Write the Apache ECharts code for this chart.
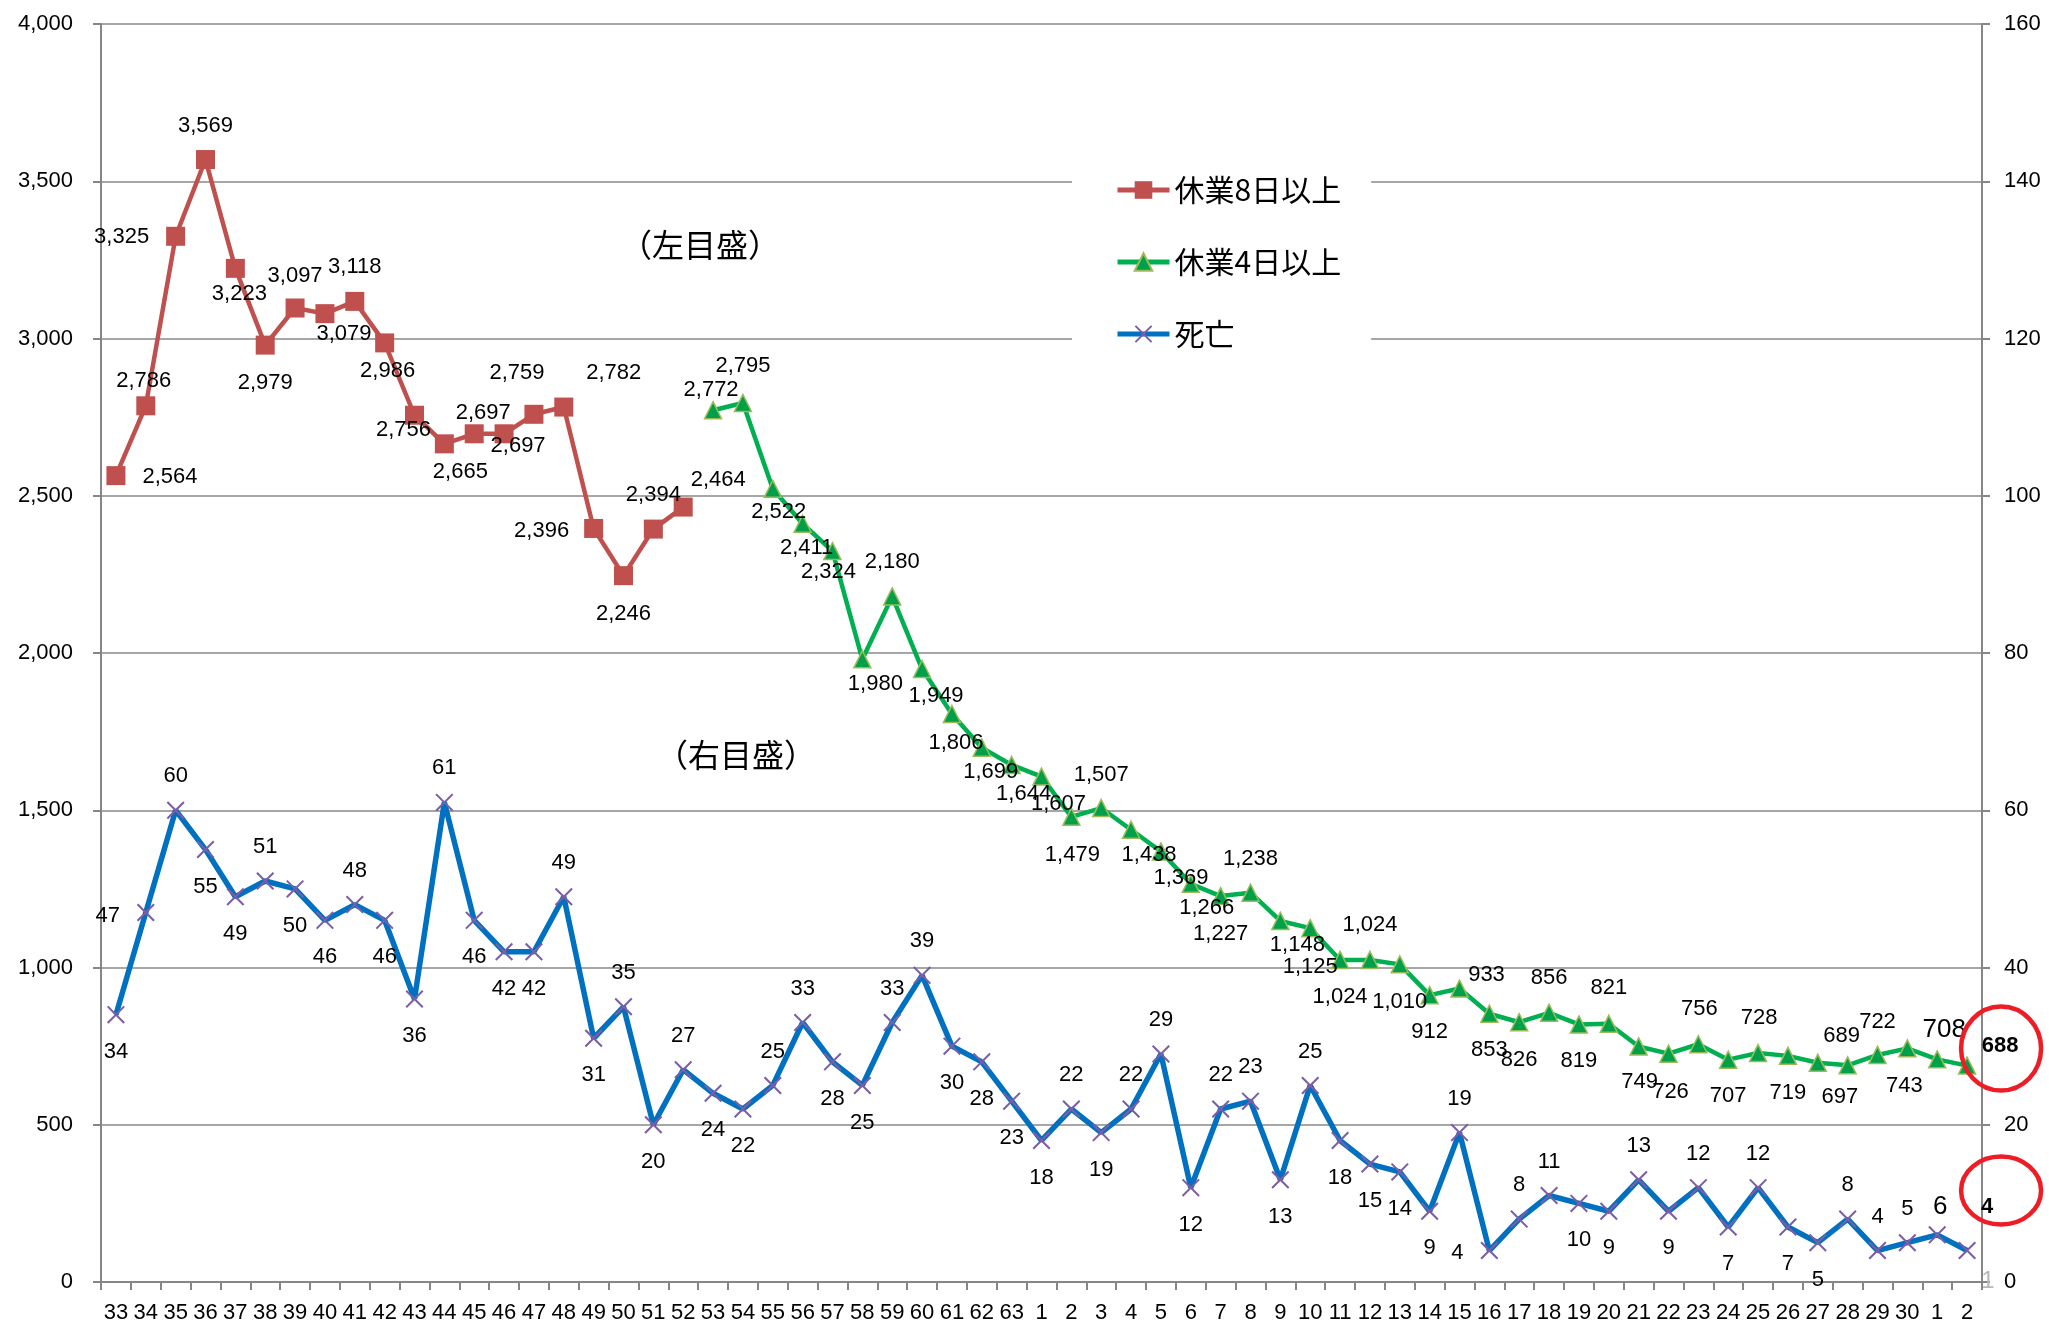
<!DOCTYPE html>
<html><head><meta charset="utf-8">
<script src="https://cdn.jsdelivr.net/npm/echarts@6/dist/echarts.min.js"></script>
<style>html,body{margin:0;padding:0;background:#fff}#c{width:2049px;height:1326px}</style>
</head><body><div id="c"></div>
<script>
// ---- categories (昭和33〜63, 平成1〜30, 令和1〜2) ----
const categories = ['33','34','35','36','37','38','39','40','41','42','43','44','45','46','47','48','49','50','51','52','53','54','55','56','57','58','59','60','61','62','63',
  '1','2','3','4','5','6','7','8','9','10','11','12','13','14','15','16','17','18','19','20','21','22','23','24','25','26','27','28','29','30',
  '1','2'];

// 休業8日以上 (33〜52)
const leave8Values = [2564,2786,3325,3569,3223,2979,3097,3079,3118,2986,2756,2665,2697,2697,2759,2782,2396,2246,2394,2464];
// 休業4日以上 (53〜令和2)
const leave4Values = [2772,2795,2522,2411,2324,1980,2180,1949,1806,1699,1644,
  1607,1479,1507,1438,1369,1266,1227,1238,1148,1125,1024,1024,1010,912,933,853,826,856,819,821,749,726,756,707,728,719,697,689,722,743,
  708,688];
// 死亡 (33〜令和2, 右目盛)
const deathValues = [34,47,60,55,49,51,50,46,48,46,36,61,46,42,42,49,31,35,20,27,24,22,25,33,28,25,33,39,30,28,23,
  18,22,19,22,29,12,22,23,13,25,18,15,14,9,19,4,8,11,10,9,13,9,12,7,12,7,5,8,4,5,
  6,4];

const leftTicks = {min:0, max:4000, interval:500};
const rightTicks = {min:0, max:160, interval:20};

// label placement (pixel offsets from the point)
const leave8LabelOffsets = [[54,1],[-2,-25],[-54,1],[0,-34],[4,26],[0,38],[0,-32],[19,20],[0,-34],[3,28],[-11,15],[16,28],[9,-21],[14,12],[-17,-41],[50,-34],[-52,2],[0,38],[0,-34],[35,-27]];
const leave4LabelOffsets = [[-2,-20],[0,-37],[6,23],[4,24],[-4,21],[13,25],[0,-34],[14,27],[4,29],[9,24],[12,29],
  [17,27],[1,38],[0,-33],[18,25],[20,26],[16,24],[0,38],[0,-34],[17,24],[0,39],
  [0,37],[0,-35],[0,38],[0,37],[27,-14],[0,36],[0,38],[0,-35],[0,37],[0,-36],
  [1,35],[2,38],[1,-35],[0,36],[1,-35],[0,37],[22,34],[-6,-29],[0,-33],[-3,38],
  [7,-30],[33,-20]];
const deathLabelOffsets = ['b',[-38,3],'a','b','b','a','b','b','a','b','b','a','b','b','b','a','b','a','b','a',
  'b','b','a','a','b','b','a','a','b','b','b',
  'b','a','b','a','a','b','a','a','b','a','b','b','b','b','a',[-32,2],'a','a','b','b','a','b','a','b','a','b','b','a','a','a',
  [3,-28],[20,-44]];

const FONT = '"Liberation Sans", Arial, sans-serif';
const CJK = '"Noto Sans CJK JP", "Noto Sans CJK SC", sans-serif';
const fmt = v => Number(v).toLocaleString('en-US');
function off(c){ if(c==='a') return [0,-34]; if(c==='b') return [0,37]; return c; }
function buildData(vals, offsets, lead, trail, special){
  const out = [];
  for(let i=0;i<lead;i++) out.push(null);
  vals.forEach((v,i)=>{
    const lab = {show:true, position:'inside', offset: off(offsets[i])};
    if (special && special[i]) Object.assign(lab, special[i]);
    out.push({value:v, label:lab});
  });
  for(let i=0;i<trail;i++) out.push(null);
  return out;
}
const N = categories.length;
const lastG = leave4Values.length-1, lastD = deathValues.length-1;
const gSpecial = {}; gSpecial[lastG-1] = {fontSize:26}; gSpecial[lastG] = {fontWeight:'bold'};
const dSpecial = {}; dSpecial[lastD-1] = {fontSize:26}; dSpecial[lastD] = {fontWeight:'bold'};

const XPATH = 'path://M0,0.8 L0.8,0 L10,9.2 L9.2,10 Z M9.2,0 L10,0.8 L0.8,10 L0,9.2 Z';
const axisGray = '#868686';
const labelBase = {color:'#000', fontSize:22, fontFamily:FONT, formatter: p => fmt(p.value)};

const chart = echarts.init(document.getElementById('c'), null, {renderer:'canvas', width:2049, height:1326});
chart.setOption({
  animation:false,
  backgroundColor:'#fff',
  grid:{left:101, right:67, top:24, bottom:44, containLabel:false, outerBoundsMode:'none'},
  legend:{
    orient:'vertical', left:1072, top:161, padding:[14,30,14,43], backgroundColor:'#fff',
    itemWidth:52, itemHeight:22, itemGap:42,
    lineStyle:{width:5},
    textStyle:{fontFamily:CJK, fontSize:30, lineHeight:30, color:'#000'},
    data:['休業8日以上','休業4日以上','死亡']
  },
  xAxis:{
    type:'category', data:categories, boundaryGap:true,
    axisLine:{lineStyle:{color:axisGray, width:2}},
    axisTick:{show:true, length:8, lineStyle:{color:axisGray, width:2}},
    axisLabel:{interval:0, color:'#000', fontSize:22, fontFamily:FONT, margin:20},
    splitLine:{show:false}
  },
  yAxis:[
    {type:'value', position:'left', min:leftTicks.min, max:leftTicks.max, interval:leftTicks.interval,
     axisLine:{show:true, lineStyle:{color:axisGray, width:2}},
     axisTick:{show:true, length:8, lineStyle:{color:axisGray, width:2}},
     axisLabel:{formatter:v=>fmt(v), color:'#000', fontSize:22, fontFamily:FONT, margin:28},
     splitLine:{show:true, lineStyle:{color:'#a6a6a6', width:2}}},
    {type:'value', position:'right', min:rightTicks.min, max:rightTicks.max, interval:rightTicks.interval,
     axisLine:{show:true, lineStyle:{color:axisGray, width:2}},
     axisTick:{show:true, length:8, lineStyle:{color:axisGray, width:2}},
     axisLabel:{color:'#000', fontSize:22, fontFamily:FONT, margin:22},
     splitLine:{show:false}}
  ],
  series:[
    {name:'休業8日以上', type:'line', yAxisIndex:0,
     data: buildData(leave8Values, leave8LabelOffsets, 0, N-leave8Values.length),
     symbol:'rect', symbolSize:19,
     lineStyle:{color:'#c0504d', width:4.5}, itemStyle:{color:'#c0504d'},
     label:labelBase, emphasis:{disabled:true}, z:3},
    {name:'休業4日以上', type:'line', yAxisIndex:0,
     data: buildData(leave4Values, leave4LabelOffsets, N-leave4Values.length, 0, gSpecial),
     symbol:'triangle', symbolSize:17,
     lineStyle:{color:'#00b050', width:4.5}, itemStyle:{color:'#00a04a', borderColor:'#9bbb59', borderWidth:1.5},
     label:labelBase, emphasis:{disabled:true}, z:3},
    {name:'死亡', type:'line', yAxisIndex:1,
     data: buildData(deathValues, deathLabelOffsets, 0, 0, dSpecial),
     symbol:XPATH, symbolSize:18, symbolKeepAspect:true,
     lineStyle:{color:'#0070c0', width:5.5}, itemStyle:{color:'#7b5ea7'},
     label:labelBase, emphasis:{disabled:true}, z:4}
  ]
});

const pG = chart.convertToPixel({xAxisIndex:0, yAxisIndex:0}, [N-1, leave4Values[lastG]]);
const pD = chart.convertToPixel({xAxisIndex:0, yAxisIndex:1}, [N-1, deathValues[lastD]]);
const redRing = {stroke:'#ee1c25', lineWidth:4.5, fill:null};
chart.setOption({graphic:[
  {type:'text', x:700, y:245, style:{text:'（左目盛）', font:'32px '+CJK, fill:'#000', align:'center', verticalAlign:'middle'}},
  {type:'text', x:736, y:755, style:{text:'（右目盛）', font:'32px '+CJK, fill:'#000', align:'center', verticalAlign:'middle'}},
  {type:'ellipse', shape:{cx:pG[0]+34, cy:pG[1]-17, rx:40, ry:42}, style:redRing, z:10},
  {type:'ellipse', shape:{cx:pD[0]+34, cy:pD[1]-60, rx:40, ry:34}, style:redRing, z:10},
  {type:'text', x:1988, y:1281, style:{text:'1', font:'24px '+FONT, fill:'#b8b8b8', align:'center', verticalAlign:'middle'}, z:10}
]});
</script>
</body></html>
